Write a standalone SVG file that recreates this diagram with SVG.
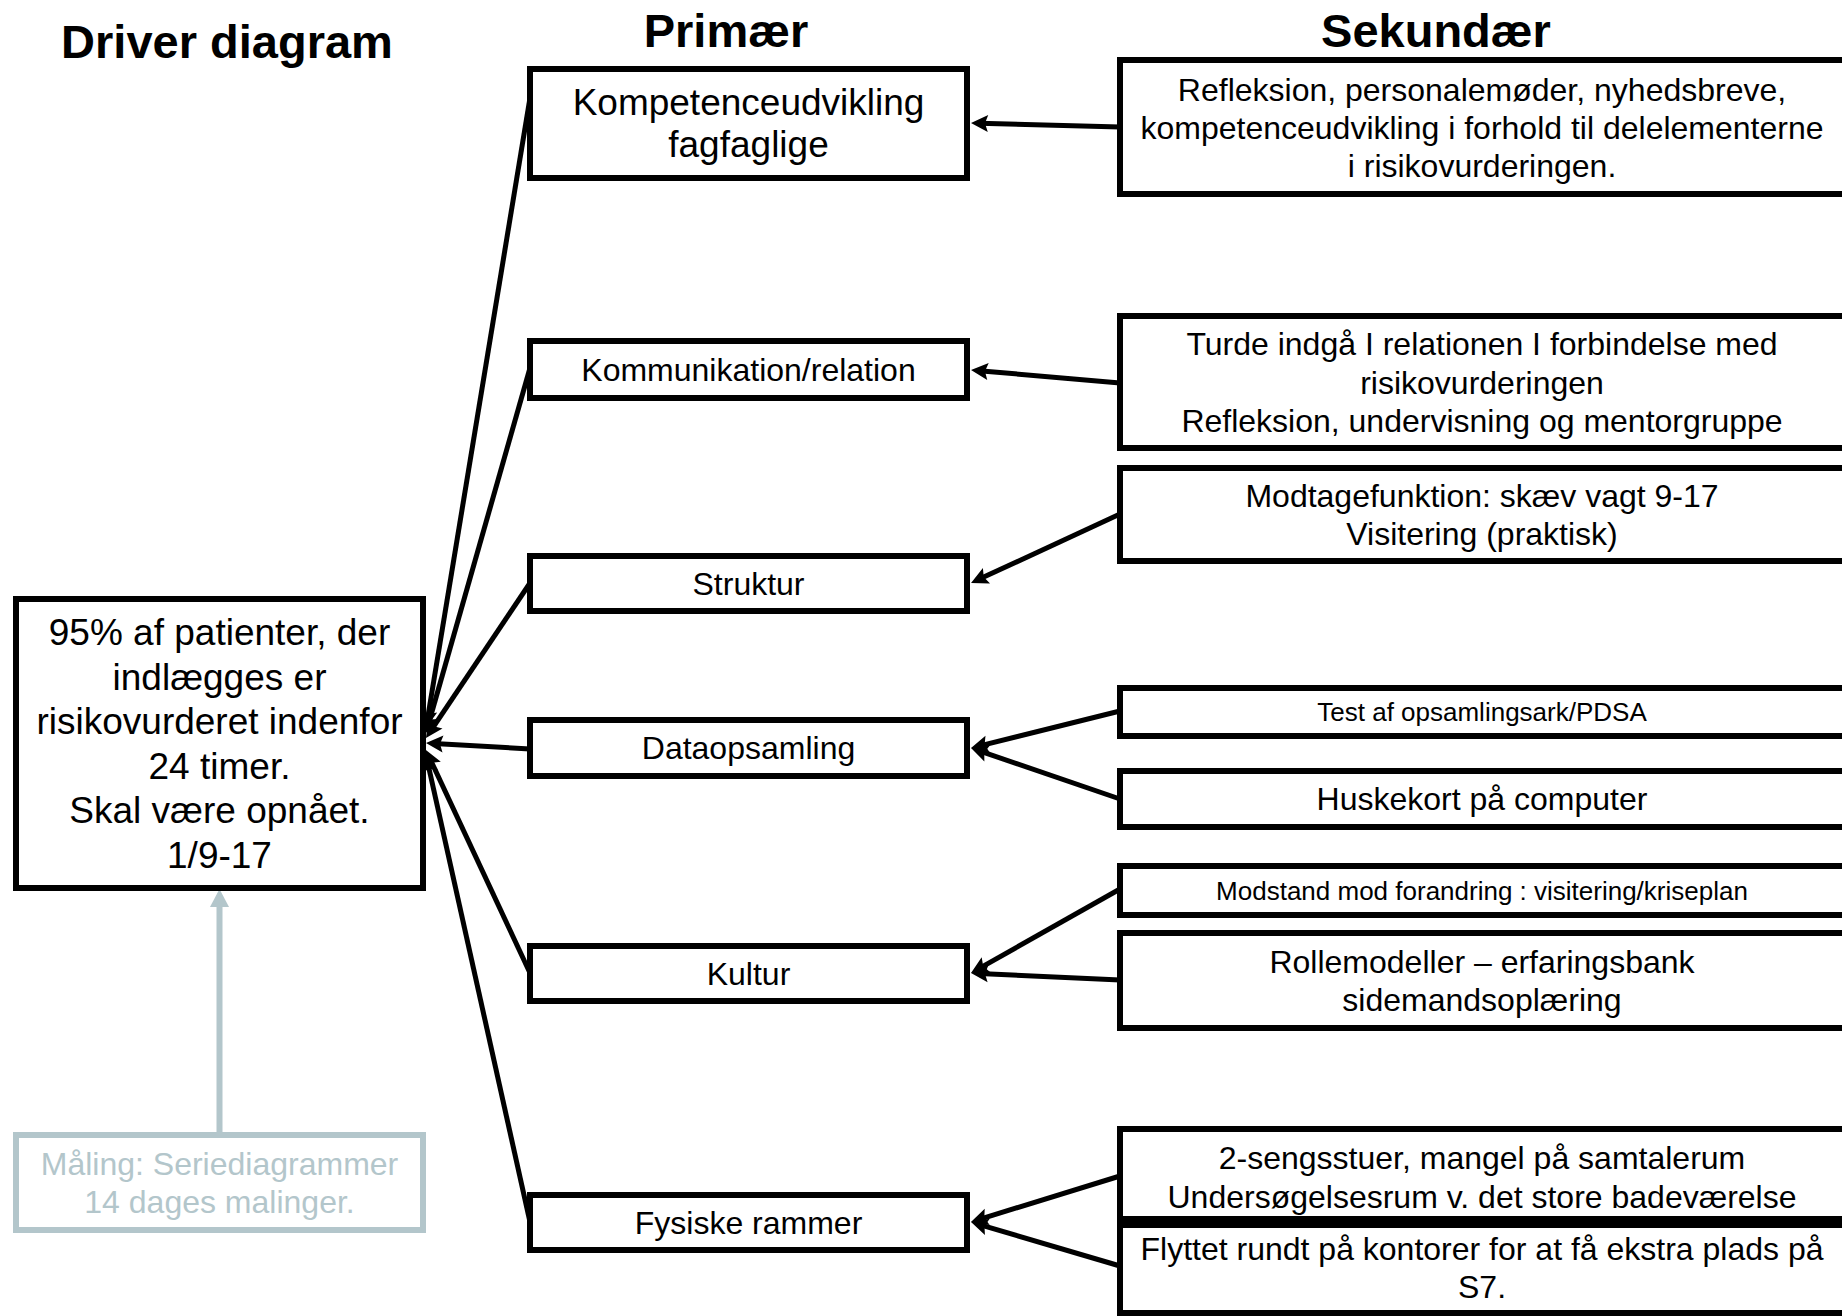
<svg xmlns="http://www.w3.org/2000/svg" width="1842" height="1316" viewBox="0 0 1842 1316">
<style>
  .box { fill: #ffffff; stroke: #000000; stroke-width: 6; }
  .mbox { fill: #ffffff; stroke: #B3C6CB; stroke-width: 6; }
  .t { font-family: "Liberation Sans", Arial, sans-serif; fill: #000000; text-anchor: middle; }
  .title { font-family: "Liberation Sans", Arial, sans-serif; font-weight: bold; font-size: 47px; fill: #000000; text-anchor: middle; }
  .f37 { font-size: 37px; }
  .f32 { font-size: 32px; }
  .f26 { font-size: 26px; }
  .gray { fill: #B3C6CB; }
  .conn { stroke: #000000; stroke-width: 5; fill: none; marker-end: url(#arr); }
</style>
<defs>
  <marker id="arr" markerUnits="userSpaceOnUse" markerWidth="40" markerHeight="40" refX="9" refY="0" orient="auto" overflow="visible">
    <path d="M0,-8.5 L17,0 L0,8.5 L3,0 z" fill="#000000"/>
  </marker>
</defs>
<rect width="1842" height="1316" fill="#ffffff"/>

<text class="title" x="227" y="58">Driver diagram</text>
<text class="title" x="726" y="47">Primær</text>
<text class="title" x="1436" y="47">Sekundær</text>

<g id="connectors">
  <!-- primary to goal -->
  <line class="conn" x1="530" y1="98" x2="427.3" y2="720.1"/>
  <line class="conn" x1="530" y1="368" x2="428.1" y2="725.3"/>
  <line class="conn" x1="530" y1="583" x2="430.4" y2="731.3"/>
  <line class="conn" x1="530" y1="749" x2="434.0" y2="743.5"/>
  <line class="conn" x1="530" y1="973" x2="429.3" y2="757.3"/>
  <line class="conn" x1="530" y1="1222" x2="427.7" y2="762.8"/>
  <!-- secondary to primary -->
  <line class="conn" x1="1120" y1="127" x2="979" y2="123.2"/>
  <line class="conn" x1="1120" y1="383" x2="979" y2="370.7"/>
  <line class="conn" x1="1120" y1="514" x2="978.3" y2="579.6"/>
  <line class="conn" x1="1120" y1="711" x2="978.8" y2="746.1"/>
  <line class="conn" x1="1120" y1="799" x2="978.6" y2="750.6"/>
  <line class="conn" x1="1120" y1="889" x2="978.0" y2="969.1"/>
  <line class="conn" x1="1120" y1="980" x2="979" y2="973.4"/>
  <line class="conn" x1="1120" y1="1176" x2="978.6" y2="1219.6"/>
  <line class="conn" x1="1120" y1="1266" x2="978.7" y2="1224.3"/>
  <!-- measurement to goal -->
  <line x1="219.5" y1="1132" x2="219.5" y2="905" stroke="#B3C6CB" stroke-width="6"/>
  <polygon points="210,907 219.5,889 229,907" fill="#B3C6CB"/>
</g>

<g id="goal">
  <rect class="box" x="16" y="599" width="407" height="289"/>
  <text class="t f37" x="219.5" y="645">95% af patienter, der</text>
  <text class="t f37" x="219.5" y="689.6">indlægges er</text>
  <text class="t f37" x="219.5" y="734.2">risikovurderet indenfor</text>
  <text class="t f37" x="219.5" y="778.8">24 timer.</text>
  <text class="t f37" x="219.5" y="823.4">Skal være opnået.</text>
  <text class="t f37" x="219.5" y="868">1/9-17</text>
</g>

<g id="measurement">
  <rect class="mbox" x="16" y="1135" width="407" height="95"/>
  <text class="t f32 gray" x="219.5" y="1175">Måling: Seriediagrammer</text>
  <text class="t f32 gray" x="219.5" y="1213">14 dages malinger.</text>
</g>

<g id="p-kompetence">
  <rect class="box" x="530" y="69" width="437" height="109"/>
  <text class="t f37" x="748.5" y="115">Kompetenceudvikling</text>
  <text class="t f37" x="748.5" y="157">fagfaglige</text>
</g>
<g id="p-kommunikation">
  <rect class="box" x="530" y="341" width="437" height="57"/>
  <text class="t f32" x="748.5" y="381">Kommunikation/relation</text>
</g>
<g id="p-struktur">
  <rect class="box" x="530" y="556" width="437" height="55"/>
  <text class="t f32" x="748.5" y="595">Struktur</text>
</g>
<g id="p-data">
  <rect class="box" x="530" y="720" width="437" height="56"/>
  <text class="t f32" x="748.5" y="759">Dataopsamling</text>
</g>
<g id="p-kultur">
  <rect class="box" x="530" y="946" width="437" height="55"/>
  <text class="t f32" x="748.5" y="985">Kultur</text>
</g>
<g id="p-fysiske">
  <rect class="box" x="530" y="1195" width="437" height="55"/>
  <text class="t f32" x="748.5" y="1234">Fysiske rammer</text>
</g>

<g id="s-refleksion">
  <rect class="box" x="1120" y="60" width="740" height="134"/>
  <text class="t f32" x="1482" y="101">Refleksion, personalemøder, nyhedsbreve,</text>
  <text class="t f32" x="1482" y="139">kompetenceudvikling i forhold til delelementerne</text>
  <text class="t f32" x="1482" y="177">i risikovurderingen.</text>
</g>
<g id="s-turde">
  <rect class="box" x="1120" y="316" width="740" height="132"/>
  <text class="t f32" x="1482" y="355">Turde indgå I relationen I forbindelse med</text>
  <text class="t f32" x="1482" y="393.5">risikovurderingen</text>
  <text class="t f32" x="1482" y="432">Refleksion, undervisning og mentorgruppe</text>
</g>
<g id="s-modtage">
  <rect class="box" x="1120" y="468" width="740" height="93"/>
  <text class="t f32" x="1482" y="507">Modtagefunktion: skæv vagt 9-17</text>
  <text class="t f32" x="1482" y="545">Visitering (praktisk)</text>
</g>
<g id="s-test">
  <rect class="box" x="1120" y="688" width="740" height="48"/>
  <text class="t f26" x="1482" y="721">Test af opsamlingsark/PDSA</text>
</g>
<g id="s-huskekort">
  <rect class="box" x="1120" y="771" width="740" height="56"/>
  <text class="t f32" x="1482" y="810">Huskekort på computer</text>
</g>
<g id="s-modstand">
  <rect class="box" x="1120" y="866" width="740" height="49"/>
  <text class="t f26" x="1482" y="899.5">Modstand mod forandring : visitering/kriseplan</text>
</g>
<g id="s-rollemodeller">
  <rect class="box" x="1120" y="933" width="740" height="95"/>
  <text class="t f32" x="1482" y="972.5">Rollemodeller – erfaringsbank</text>
  <text class="t f32" x="1482" y="1010.5">sidemandsoplæring</text>
</g>
<g id="s-sengsstuer">
  <rect class="box" x="1120" y="1129" width="740" height="90"/>
  <text class="t f32" x="1482" y="1169">2-sengsstuer, mangel på samtalerum</text>
  <text class="t f32" x="1482" y="1208">Undersøgelsesrum v. det store badeværelse</text>
</g>
<g id="s-flyttet">
  <rect class="box" x="1120" y="1225" width="740" height="88"/>
  <text class="t f32" x="1482" y="1260">Flyttet rundt på kontorer for at få ekstra plads på</text>
  <text class="t f32" x="1482" y="1298">S7.</text>
</g>
</svg>
